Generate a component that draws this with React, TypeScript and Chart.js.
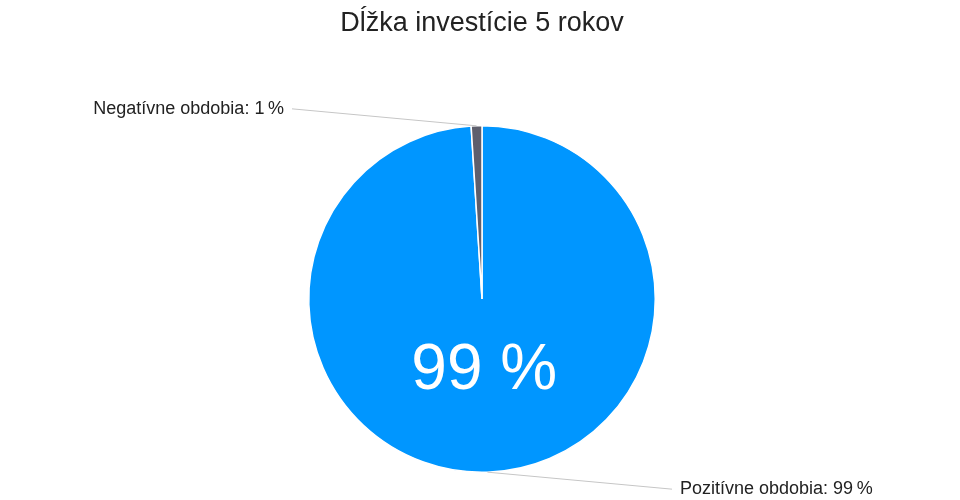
import React, { useEffect, useRef } from "react";
import { Chart, registerables, Plugin } from "chart.js";

Chart.register(...registerables);

// chart data
const chartTitle = "Dĺžka investície 5 rokov";
const categories = ["Pozitívne obdobia", "Negatívne obdobia"];
const shares = [99, 1];
const sliceColors = ["#0096ff", "#5e5f6d"];

const FONT = "'Liberation Sans', Arial, sans-serif";

// draws the outside labels with leader lines and the big share inside the large slice
const pieLabels: Plugin<"pie"> = {
    id: "pieLabels",
    afterDraw(chart) {
        const ctx = chart.ctx;
        const meta = chart.getDatasetMeta(0);
        const values = chart.data.datasets[0].data as number[];
        const labels = chart.data.labels as string[];

        meta.data.forEach((el: any, i: number) => {
            const { x, y, startAngle, endAngle, outerRadius } = el.getProps(
                ["x", "y", "startAngle", "endAngle", "outerRadius"],
                true
            );
            const mid = (startAngle + endAngle) / 2;
            const px = x + Math.cos(mid) * outerRadius;
            const py = y + Math.sin(mid) * outerRadius;
            // left side for slices in upper half, right side for lower half
            const side = Math.sin(mid) < 0 ? -1 : 1;
            const ex = x + side * 190;
            const ey = py + side * 17;

            ctx.save();
            ctx.strokeStyle = "#c6c6c6";
            ctx.lineWidth = 1;
            ctx.beginPath();
            ctx.moveTo(px, py);
            ctx.lineTo(ex, ey);
            ctx.stroke();

            ctx.fillStyle = "#222222";
            ctx.font = `18px ${FONT}`;
            ctx.textBaseline = "middle";
            ctx.textAlign = side < 0 ? "right" : "left";
            ctx.fillText(`${labels[i]}: ${values[i]}\u2009%`, ex + side * 8, ey);

            // big share inside the largest slice
            if (values[i] === Math.max(...values)) {
                const r = outerRadius * 0.42;
                ctx.fillStyle = "#ffffff";
                ctx.font = `64px ${FONT}`;
                ctx.textAlign = "center";
                ctx.fillText(`${values[i]} %`, x + Math.cos(mid) * r, y + Math.sin(mid) * r);
            }
            ctx.restore();
        });
    },
};

const App: React.FC = () => {
    const canvasRef = useRef<HTMLCanvasElement | null>(null);
    const chartRef = useRef<Chart<"pie"> | null>(null);

    useEffect(() => {
        document.body.style.margin = "0";
        if (!canvasRef.current) return;
        if (chartRef.current) chartRef.current.destroy();

        chartRef.current = new Chart(canvasRef.current, {
            type: "pie",
            data: {
                labels: categories,
                datasets: [
                    {
                        data: shares,
                        backgroundColor: sliceColors,
                        borderColor: "#ffffff",
                        borderWidth: 1.5,
                    },
                ],
            },
            options: {
                animation: false,
                responsive: true,
                maintainAspectRatio: false,
                layout: { padding: { top: 0, bottom: 27, left: 4, right: 0 } },
                plugins: {
                    legend: { display: false },
                    tooltip: { enabled: false },
                    title: {
                        display: true,
                        text: chartTitle,
                        color: "#222222",
                        font: { family: FONT, size: 27, weight: "normal" },
                        padding: { top: 7, bottom: 85.6 },
                    },
                },
            },
            plugins: [pieLabels],
        });

        return () => {
            if (chartRef.current) {
                chartRef.current.destroy();
                chartRef.current = null;
            }
        };
    }, []);

    return (
        <div style={{ width: 960, height: 500, position: "relative" }}>
            <canvas ref={canvasRef}></canvas>
        </div>
    );
};

export default App;
